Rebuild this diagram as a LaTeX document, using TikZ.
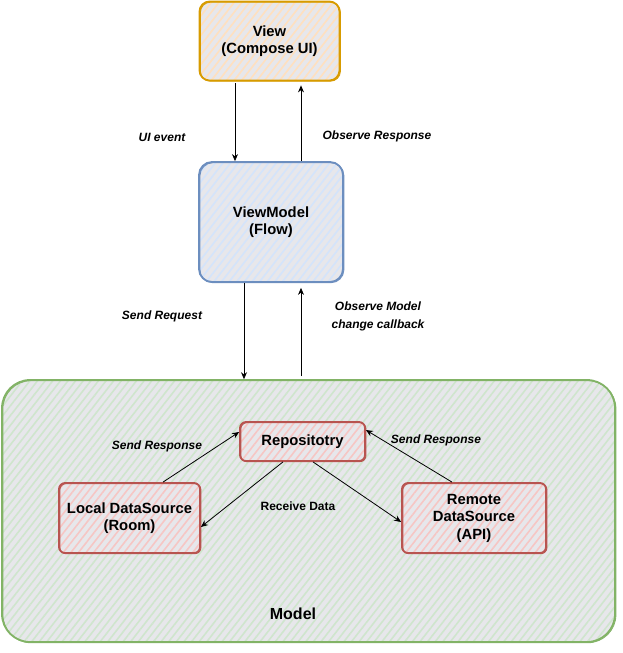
\documentclass[tikz,border=0pt]{standalone}
\usepackage{fontspec}
\setmainfont{Liberation Sans}
\usetikzlibrary{patterns.meta,arrows.meta}
\definecolor{bgc}{HTML}{E7E7EB}
\definecolor{orS}{HTML}{D79B00}\definecolor{orF}{HTML}{FFE0BF}
\definecolor{blS}{HTML}{6C8EBF}\definecolor{blF}{HTML}{D4E4FB}
\definecolor{grS}{HTML}{82B366}\definecolor{grF}{HTML}{CFE5CD}
\definecolor{rdS}{HTML}{B85450}\definecolor{rdF}{HTML}{F6C6C4}
\tikzset{
  hatch/.style={preaction={fill=bgc}, pattern={Lines[angle=52,distance=6pt,line width=1.6pt]}, pattern color=#1},
  sketch/.style={postaction={draw=#1, line width=0.9pt, transform canvas={shift={(0.9pt,-0.7pt)}}}},
  box/.style={draw, line width=1.8pt, inner sep=0pt, align=center, font=\fontsize{14.8}{17.5}\selectfont\bfseries},
  lbl/.style={font=\fontsize{12}{18}\selectfont\bfseries\itshape, align=center},
  arr/.style={draw, line width=0.8pt, -{Stealth[length=7pt,width=6pt]}},
}
\begin{document}
\begin{tikzpicture}[x=1pt,y=-1pt]
\useasboundingbox (0,0) rectangle (623,653);
% Model container
\node[box, draw=grS, hatch=grF, sketch=grS, rounded corners=28pt, minimum width=613pt, minimum height=262pt] (model) at (308.5,511) {};
\node[font=\fontsize{16}{19}\selectfont\bfseries] (modellbl) at (293,614) {Model};
% top boxes
\node[box, draw=orS, hatch=orF, sketch=orS, rounded corners=10pt, minimum width=140pt, minimum height=79pt] (view) at (269.5,41) {View\\(Compose UI)};
\node[box, draw=blS, hatch=blF, sketch=blS, rounded corners=13pt, minimum width=144pt, minimum height=120pt] (vm) at (271,222) {ViewModel\\(Flow)};
% inner boxes
\node[box, draw=rdS, hatch=rdF, sketch=rdS, rounded corners=6pt, minimum width=125pt, minimum height=39pt] (repo) at (302.5,441.5) {Repositotry};
\node[box, draw=rdS, hatch=rdF, sketch=rdS, rounded corners=6pt, minimum width=141pt, minimum height=70pt] (local) at (129.5,518) {Local DataSource\\(Room)};
\node[box, draw=rdS, hatch=rdF, sketch=rdS, rounded corners=6pt, minimum width=144pt, minimum height=70pt] (remote) at (474,518) {Remote\\DataSource\\(API)};
% x positions
\coordinate (xa) at (235,0);
\coordinate (xb) at (301,0);
\coordinate (xc) at (244,0);
\coordinate (xd) at (301,0);
% top arrows
\draw[arr, shorten <=2pt] (view.south -| xa) -- (vm.north -| xa);
\draw[arr, shorten >=4pt] (vm.north -| xb) -- (view.south -| xb);
\draw[arr] (vm.south -| xc) -- (model.north -| xc);
\draw[arr, shorten >=5pt, shorten <=3pt] (model.north -| xd) -- (vm.south -| xd);
% inner arrows
\draw[arr] ([xshift=33.5pt]local.north) -- ([yshift=9.5pt]repo.west);
\draw[arr] ([xshift=-22pt]remote.north) -- ([yshift=11.5pt]repo.east);
\draw[arr] ([xshift=-19.5pt]repo.south) -- ([yshift=-9pt]local.east);
\draw[arr] ([xshift=10.5pt]repo.south) -- ([yshift=-4pt]remote.west);
% labels
\node[lbl] (l1) at (162,137) {UI event};
\node[lbl] (l2) at (377,136) {Observe Response};
\node[lbl] (l3) at (162,316) {Send Request};
\node[lbl] (l4) at (378,316) {Observe Model\\change callback};
\node[lbl] (l5) at (157,446) {Send Response};
\node[lbl] (l6) at (436,440) {Send Response};
\node[font=\fontsize{12}{14}\selectfont\bfseries] (l7) at (298,506) {Receive Data};
\end{tikzpicture}
\end{document}
